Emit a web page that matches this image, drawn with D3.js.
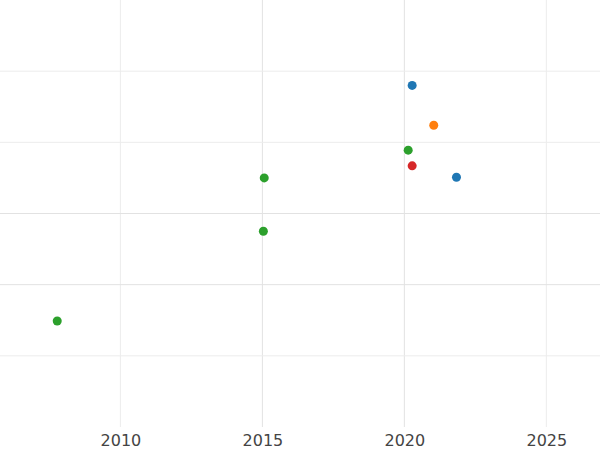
<!DOCTYPE html>
<html><head><meta charset="utf-8">
<script src="https://cdn.jsdelivr.net/npm/d3@7"></script>
<style>body{margin:0;background:#fff}</style>
</head><body><div id="plot"></div>
<script>
var years = [2020.24, 2021.0, 2020.1, 2020.24, 2021.8, 2015.03, 2015.0, 2007.74];
var values = [4.80, 4.24, 3.89, 3.67, 3.51, 3.50, 2.75, 1.49];
var groups = ["blue", "orange", "green", "red", "blue", "green", "green", "green"];
var xTicks = [2010, 2015, 2020, 2025];
var yTicks = [1, 2, 3, 4, 5];

var w = 600, h = 450;
var colors = {blue: "#1f77b4", orange: "#ff7f0e", green: "#2ca02c", red: "#d62728"};
var svg = d3.select("#plot").append("svg").attr("width", w).attr("height", h);

var xScale = d3.scaleLinear().domain([2005.76, 2026.89]).range([0, 600]);
var yScale = d3.scaleLinear().domain([0, 6]).range([427, 0]);

svg.append("g").selectAll("line").data(xTicks).enter().append("line")
    .attr("x1", d => xScale(d)).attr("x2", d => xScale(d))
    .attr("y1", 0).attr("y2", 427)
    .attr("stroke", d => (d == 2015 || d == 2020) ? "#e2e2e2" : "#ececec").attr("stroke-width", 1);
svg.append("g").selectAll("line").data(yTicks).enter().append("line")
    .attr("x1", 0).attr("x2", w)
    .attr("y1", d => yScale(d)).attr("y2", d => yScale(d))
    .attr("stroke", d => (d == 2 || d == 3) ? "#e2e2e2" : "#ececec").attr("stroke-width", 1);

var xAxis = d3.axisBottom(xScale).tickValues(xTicks).tickFormat(d3.format("d")).tickSize(0).tickPadding(8);
var gx = svg.append("g").attr("transform", "translate(0,427)").call(xAxis);
gx.select(".domain").remove();
gx.selectAll("text").attr("font-family", "DejaVu Sans").attr("font-size", 16).attr("fill", "#444");

svg.selectAll("circle").data(years).enter().append("circle")
    .attr("cx", d => xScale(d) + 1)
    .attr("cy", (d, i) => yScale(values[i]))
    .attr("r", 4.5)
    .attr("fill", (d, i) => colors[groups[i]]);
</script></body></html>
